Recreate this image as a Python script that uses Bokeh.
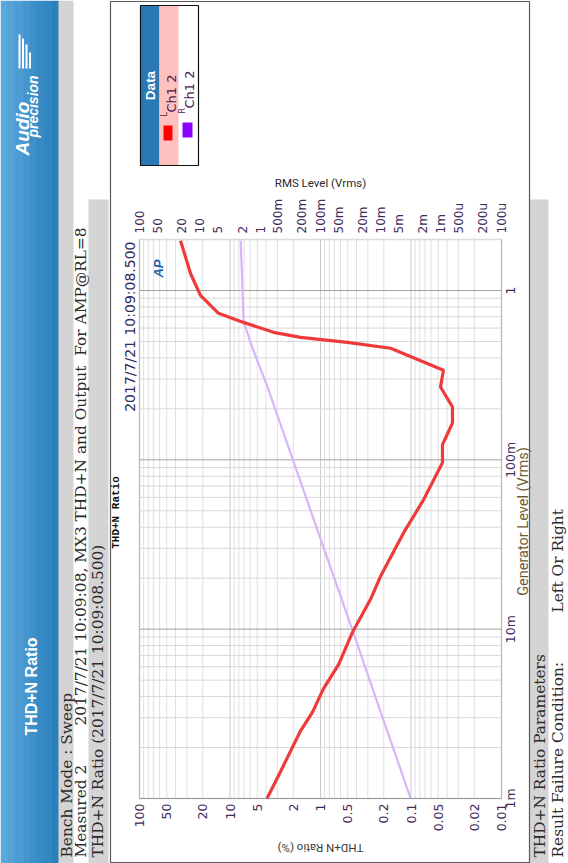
import math
from bokeh.plotting import figure
from bokeh.models import Range1d, LogScale, Label, BoxAnnotation
from bokeh.core.properties import value
from bokeh.embed import file_html
from bokeh.resources import INLINE

# ---------------- data ----------------
# L Ch1 : THD+N Ratio (%) vs Generator Level (Vrms)
gen_level_l = [0.001, 0.00144, 0.00251, 0.00325, 0.00444, 0.0062, 0.0096, 0.015, 0.0205,
               0.037, 0.058, 0.096, 0.123, 0.165, 0.205, 0.269, 0.338, 0.456, 0.494,
               0.529, 0.566, 0.648, 0.733, 0.935, 1.26, 1.97]
thdn_ratio_l = [3.9, 2.77, 1.66, 1.22, 0.93, 0.63, 0.443, 0.28, 0.217,
                0.121, 0.0728, 0.0449, 0.0449, 0.0348, 0.0348, 0.0472, 0.0438, 0.168, 0.503,
                1.66, 3.3, 7.1, 13.4, 21.2, 27.3, 35.2]

# R Ch1 : RMS Level (Vrms) vs Generator Level (Vrms)
gen_level_r = [0.001, 0.00325, 0.0096, 0.037, 0.096, 0.165, 0.269, 0.456, 0.558, 0.648, 0.935, 1.97]
rms_level_r = [0.0032, 0.0101, 0.0287, 0.108, 0.275, 0.468, 0.754, 1.34, 1.62, 1.88, 1.95, 2.1]

# axes
ratio_max, ratio_min = 100, 0.01        # THD+N Ratio (%)  (reversed)
rms_max, rms_min = 100, 0.0001          # RMS Level (Vrms) (reversed)
gen_min, gen_max = 0.001, 2             # Generator Level (Vrms)

ratio_ticks = [100, 50, 20, 10, 5, 2, 1, 0.5, 0.2, 0.1, 0.05, 0.02, 0.01]
ratio_tick_labels = ["100", "50", "20", "10", "5", "2", "1", "0.5", "0.2", "0.1", "0.05", "0.02", "0.01"]
rms_ticks = [100, 50, 20, 10, 5, 2, 1, 0.5, 0.2, 0.1, 0.05, 0.02, 0.01, 0.005, 0.002, 0.001,
             0.0005, 0.0002, 0.0001]
rms_tick_labels = ["100", "50", "20", "10", "5", "2", "1", "500m", "200m", "100m", "50m", "20m",
                   "10m", "5m", "2m", "1m", "500u", "200u", "100u"]
gen_ticks = [0.001, 0.01, 0.1, 1]
gen_tick_labels = ["1m", "10m", "100m", "1"]

legend_names = ["Ch1 2", "Ch1 2"]
legend_channels = ["L", "R"]

# ---------------- layout (page pixels) ----------------
W, H = 568, 863
CL, CR, CT, CB = 139, 501, 239, 798      # chart data area


def log_at(px, p0, v0, p1, v1):
    a, b = math.log10(v0), math.log10(v1)
    return 10 ** (a + (px - p0) * (b - a) / (p1 - p0))


x_rng = Range1d(log_at(0, CL, ratio_max, CR, ratio_min), log_at(W, CL, ratio_max, CR, ratio_min))
rms_rng = Range1d(log_at(0, CL, rms_max, CR, rms_min), log_at(W, CL, rms_max, CR, rms_min))
y_rng = Range1d(log_at(H, CB, gen_min, CT, gen_max), log_at(0, CB, gen_min, CT, gen_max))

p = figure(width=W, height=H, x_axis_type="log", y_axis_type="log",
           x_range=x_rng, y_range=y_rng, x_axis_location=None, y_axis_location=None,
           output_backend="svg", toolbar_location=None,
           min_border_left=0, min_border_right=0, min_border_top=0, min_border_bottom=0)
p.outline_line_color = None
p.background_fill_color = "white"
p.border_fill_color = "white"
p.grid.visible = False
p.extra_x_ranges = {"rms": rms_rng}
p.extra_x_scales = {"rms": LogScale()}

# ---------------- grid ----------------
decades_x = [100, 10, 1, 0.1, 0.01]
minor_x = [m * 10.0 ** k for k in range(-2, 2) for m in range(2, 10)]
decades_y = [0.001, 0.01, 0.1, 1]
minor_y = [m * 10.0 ** k for k in range(-3, 1) for m in range(2, 10) if m * 10.0 ** k < gen_max]

p.segment(x0=minor_x, x1=minor_x, y0=[gen_min] * len(minor_x), y1=[gen_max] * len(minor_x),
          line_color="#E0E0E0", line_width=1)
p.segment(x0=decades_x, x1=decades_x, y0=[gen_min] * len(decades_x), y1=[gen_max] * len(decades_x),
          line_color="#CBCBCB", line_width=1)
p.segment(x0=[ratio_max] * len(minor_y), x1=[ratio_min] * len(minor_y), y0=minor_y, y1=minor_y,
          line_color="#D8D8D8", line_width=1)
p.segment(x0=[ratio_max] * len(decades_y), x1=[ratio_min] * len(decades_y), y0=decades_y, y1=decades_y,
          line_color="#A2A2A2", line_width=1)

# ---------------- data lines ----------------
p.line(x=rms_level_r, y=gen_level_r, x_range_name="rms", line_color="#D5B6F7", line_width=2.2)
p.line(x=thdn_ratio_l, y=gen_level_l, line_color="#EE3A3A", line_width=3.2)

# frame outline
p.add_layout(BoxAnnotation(left=ratio_max, right=ratio_min, bottom=gen_min, top=gen_max,
                           fill_alpha=0, line_color="#8A8A8A", line_width=1.5))

# ---------------- tick labels ----------------
LABEL_COLOR = "#402A60"
p.text(x=ratio_ticks, y=[gen_min] * len(ratio_ticks), text=ratio_tick_labels, angle=math.pi / 2,
       text_align="right", text_baseline="middle", y_offset=5,
       text_font=value("DejaVu Sans"), text_font_size=value("12.5px"), text_color=LABEL_COLOR)
p.text(x=rms_ticks, y=[gen_max] * len(rms_ticks), text=rms_tick_labels, x_range_name="rms",
       angle=math.pi / 2, text_align="left", text_baseline="middle", y_offset=-6,
       text_font=value("DejaVu Sans"), text_font_size=value("12px"), text_color=LABEL_COLOR)
p.text(x=[ratio_min] * len(gen_ticks), y=gen_ticks, text=gen_tick_labels, angle=math.pi / 2,
       text_align="center", text_baseline="middle", x_offset=9,
       text_font=value("DejaVu Sans"), text_font_size=value("12.5px"), text_color=LABEL_COLOR)

# ---------------- decorations (page pixel coords -> screen units) ----------------
def box(x0, y0, x1, y1, fill=None, line=None, lw=1.0):
    p.add_layout(BoxAnnotation(
        left=x0, right=x1, top=H - y0, bottom=H - y1,
        left_units="screen", right_units="screen", top_units="screen", bottom_units="screen",
        fill_color=fill if fill else "white", fill_alpha=1.0 if fill else 0.0,
        line_color=line if line else "white", line_alpha=1.0 if line else 0.0, line_width=lw))


def label(X, Y, text, size, font="DejaVu Sans", color="#222222", angle=math.pi / 2,
          align="left", style="normal"):
    p.add_layout(Label(x=X, y=H - Y, x_units="screen", y_units="screen", text=text,
                       angle=angle, text_align=align, text_baseline="middle", text_font=font,
                       text_font_size=f"{size}px", text_color=color, text_font_style=style))

# blue header band (simulated gradient)
blues = ["#5AA9DD", "#53A3D8", "#4C9CD3", "#4596CE", "#3E90C9", "#378AC4", "#3185C0", "#2B80BC"]
for i, c in enumerate(blues):
    box(i * 58 / len(blues), 0, (i + 1) * 58 / len(blues) + 0.5, H, fill=c)

# gray strips
box(58, 0, 73, H, fill="#D4D4D4")
box(88, 199, 108, H, fill="#D4D4D4")
box(529, 199, 548, H, fill="#D4D4D4")

# chart box
box(110, 1, 529, 862, line="#5A5A5A", lw=1.2)

# header texts
label(31, 686, "THD+N Ratio", 16, font="Liberation Sans", color="white", align="center", style="bold")
label(22, 128, "Audio", 19, font="Liberation Sans", color="white", align="center", style="bold italic")
label(32, 106, "precision", 14, font="Liberation Sans", color="white", align="center", style="bold italic")
for bx, top in [(18, 34), (21.5, 38), (25, 44), (28.5, 52)]:
    box(bx, top, bx + 2, 68, fill="white")

# info rows
SERIF = "DejaVu Serif"
NB = "\u00a0"
label(66, 857, "Bench Mode : Sweep", 15.4, font=SERIF, color="#2A2A2A")
label(80, 857, "Measured 2" + NB * 7 + " 2017/7/21 10:09:08, MX3 THD+N and Output" + NB + " For AMP@RL=8",
      15.4, font=SERIF, color="#2A2A2A")
label(97, 857, "THD+N Ratio (2017/7/21 10:09:08.500)", 15.4, font=SERIF, color="#2A2A2A")
label(539, 857, "THD+N Ratio Parameters", 15.4, font=SERIF, color="#2A2A2A")
label(557, 857, "Result Failure Condition:", 15.4, font=SERIF, color="#2A2A2A")
label(557, 612, "Left Or Right", 15.4, font=SERIF, color="#2A2A2A")

# chart titles / axis labels
label(115, 512, "THD+N Ratio", 11, font="Liberation Mono", color="#111111", align="center", style="bold")
label(129, 241, "2017/7/21 10:09:08.500", 14, color="#2E2E5E", align="right")
label(158, 268, "AP", 13, font="Liberation Sans", color="#2268A8", align="center", style="bold italic")
label(523, 521, "Generator Level (Vrms)", 14.5, font="Roboto", color="#6E5C30", align="center")
label(320, 847, "THD+N Ratio (%)", 11.5, font="Roboto", color="#3A3A3A", angle=math.pi, align="center")
label(320, 182, "RMS Level (Vrms)", 11.5, font="Roboto", color="#2A2A2A", angle=0, align="center")

# legend
box(140, 5, 159, 165, fill="#2B79B3")
box(159, 5, 178, 165, fill="#FFC0C0")
box(140, 5, 198, 165, line="#111111", lw=1.2)
label(149.5, 85, "Data", 13.5, font="Liberation Sans", color="white", align="center", style="bold")
box(163, 125, 172, 140, fill="#FF0000")
box(182, 122, 192, 137, fill="#8A00FF")
label(164, 116, legend_channels[0], 8, color="#4A2050")
label(171, 112, legend_names[0], 13, color="#4A2050")
label(182, 113, legend_channels[1], 8, color="#4A2050")
label(189, 108, legend_names[1], 13, color="#4A2050")

open("out.html", "w").write(file_html(p, INLINE))
